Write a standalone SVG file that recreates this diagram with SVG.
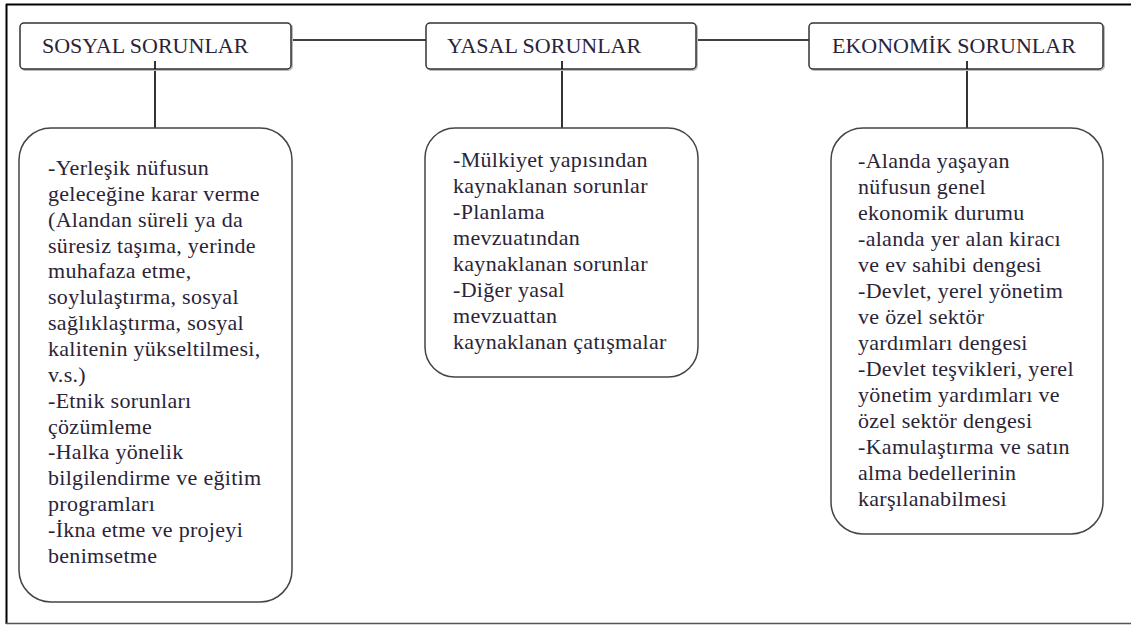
<svg xmlns="http://www.w3.org/2000/svg" width="1131" height="625" viewBox="0 0 1131 625">
<defs>
<style>
.frame{stroke:#000;stroke-width:2;fill:none}
.hbox{fill:#fff;stroke:#333;stroke-width:1.5}
.shadow{fill:none;stroke:#bbb;stroke-width:2}
.bbox{fill:#fff;stroke:#444;stroke-width:1.5}
.conn{stroke:#000;stroke-width:1.6;fill:none}
.ht{font-family:'Liberation Serif','Noto Serif','DejaVu Serif','Nimbus Roman','FreeSerif','Tinos','Times New Roman',Times,serif;font-size:22px;fill:#2a2438}
.bt{font-family:'Liberation Serif','Noto Serif','DejaVu Serif','Nimbus Roman','FreeSerif','Tinos','Times New Roman',Times,serif;font-size:22px;fill:#2a2438;letter-spacing:0.3px}
</style>
</defs>
<rect x="0" y="0" width="1131" height="625" fill="#fff"/>
<g id="frame">
<line class="frame" x1="6" y1="4.5" x2="1131" y2="4.5"/>
<line class="frame" x1="6.5" y1="4" x2="6.5" y2="624"/>
<line x1="6" y1="623.5" x2="1131" y2="623.5" stroke="#555" stroke-width="1.5"/>
</g>
<g id="connectors">
<line class="conn" x1="291" y1="40" x2="426" y2="40"/>
<line class="conn" x1="696" y1="40" x2="809" y2="40"/>
<line class="conn" x1="155" y1="61" x2="155" y2="128"/>
<line class="conn" x1="562" y1="61" x2="562" y2="128"/>
<line class="conn" x1="967" y1="61" x2="967" y2="128"/>
</g>
<g id="sosyal">
<rect class="shadow" x="21" y="24" width="271" height="46" rx="4"/>
<rect class="hbox" x="20" y="23" width="271" height="46" rx="4"/>
<text class="ht" x="42" y="53">SOSYAL SORUNLAR</text>
</g>
<g id="yasal">
<rect class="shadow" x="427" y="24" width="270" height="46" rx="4"/>
<rect class="hbox" x="426" y="23" width="270" height="46" rx="4"/>
<text class="ht" x="447" y="53">YASAL SORUNLAR</text>
</g>
<g id="ekonomik">
<rect class="shadow" x="810" y="24" width="294" height="46" rx="4"/>
<rect class="hbox" x="809" y="23" width="294" height="46" rx="4"/>
<text class="ht" x="832" y="53">EKONOMİK SORUNLAR</text>
</g>
<g id="stubs">
<line class="conn" x1="155" y1="61" x2="155" y2="69"/>
<line class="conn" x1="562" y1="61" x2="562" y2="69"/>
<line class="conn" x1="967" y1="61" x2="967" y2="69"/>
</g>
<g id="sosyal-detay">
<rect class="bbox" x="19" y="128" width="273" height="474" rx="32"/>
<text class="bt" x="48" y="175">
<tspan x="48" dy="0">-Yerleşik nüfusun</tspan>
<tspan x="48" dy="25.85">geleceğine karar verme</tspan>
<tspan x="48" dy="25.85">(Alandan süreli ya da</tspan>
<tspan x="48" dy="25.85">süresiz taşıma, yerinde</tspan>
<tspan x="48" dy="25.85">muhafaza etme,</tspan>
<tspan x="48" dy="25.85">soylulaştırma, sosyal</tspan>
<tspan x="48" dy="25.85">sağlıklaştırma, sosyal</tspan>
<tspan x="48" dy="25.85">kalitenin yükseltilmesi,</tspan>
<tspan x="48" dy="25.85">v.s.)</tspan>
<tspan x="48" dy="25.85">-Etnik sorunları</tspan>
<tspan x="48" dy="25.85">çözümleme</tspan>
<tspan x="48" dy="25.85">-Halka yönelik</tspan>
<tspan x="48" dy="25.85">bilgilendirme ve eğitim</tspan>
<tspan x="48" dy="25.85">programları</tspan>
<tspan x="48" dy="25.85">-İkna etme ve projeyi</tspan>
<tspan x="48" dy="25.85">benimsetme</tspan>
</text>
</g>
<g id="yasal-detay">
<rect class="bbox" x="425" y="128" width="273" height="249" rx="30"/>
<text class="bt" x="453" y="167">
<tspan x="453" dy="0">-Mülkiyet yapısından</tspan>
<tspan x="453" dy="26">kaynaklanan sorunlar</tspan>
<tspan x="453" dy="26">-Planlama</tspan>
<tspan x="453" dy="26">mevzuatından</tspan>
<tspan x="453" dy="26">kaynaklanan sorunlar</tspan>
<tspan x="453" dy="26">-Diğer yasal</tspan>
<tspan x="453" dy="26">mevzuattan</tspan>
<tspan x="453" dy="26">kaynaklanan çatışmalar</tspan>
</text>
</g>
<g id="ekonomik-detay">
<rect class="bbox" x="831" y="128" width="272" height="406" rx="32"/>
<text class="bt" x="858" y="168">
<tspan x="858" dy="0">-Alanda yaşayan</tspan>
<tspan x="858" dy="26">nüfusun genel</tspan>
<tspan x="858" dy="26">ekonomik durumu</tspan>
<tspan x="858" dy="26">-alanda yer alan kiracı</tspan>
<tspan x="858" dy="26">ve ev sahibi dengesi</tspan>
<tspan x="858" dy="26">-Devlet, yerel yönetim</tspan>
<tspan x="858" dy="26">ve özel sektör</tspan>
<tspan x="858" dy="26">yardımları dengesi</tspan>
<tspan x="858" dy="26">-Devlet teşvikleri, yerel</tspan>
<tspan x="858" dy="26">yönetim yardımları ve</tspan>
<tspan x="858" dy="26">özel sektör dengesi</tspan>
<tspan x="858" dy="26">-Kamulaştırma ve satın</tspan>
<tspan x="858" dy="26">alma bedellerinin</tspan>
<tspan x="858" dy="26">karşılanabilmesi</tspan>
</text>
</g>
</svg>
